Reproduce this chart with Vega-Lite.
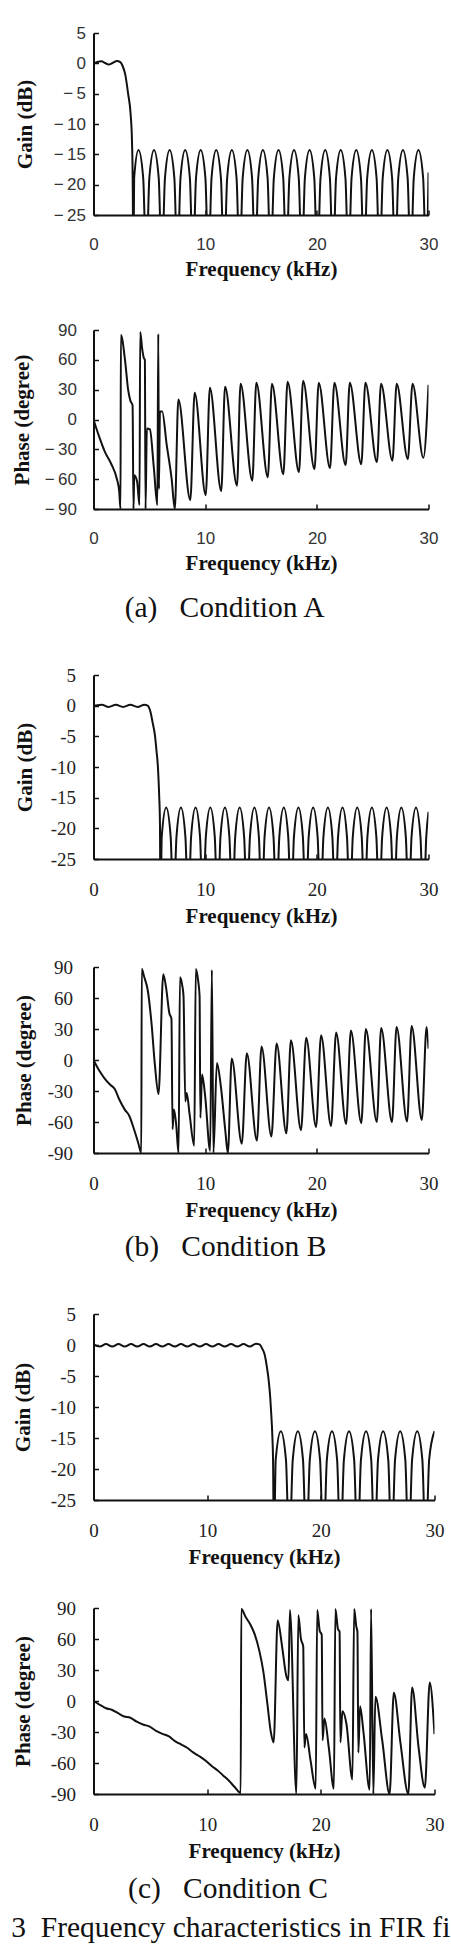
{
  "$schema": "https://vega.github.io/schema/vega-lite/v6.json",
  "background": "white",
  "padding": {"left": 10.5, "top": 24, "right": 0, "bottom": 5},
  "config": {
    "view": {"stroke": null},
    "axis": {"grid": false, "domainColor": "#111", "domainWidth": 2, "tickColor": "#111", "tickWidth": 1.5, "tickSize": -5, "labelColor": "#222", "titleColor": "#111", "titleFont": "Liberation Serif", "titleFontWeight": "bold", "titleFontSize": 21, "labelFont": "Liberation Serif", "labelFontSize": 19, "labelFlush": false, "labelOverlap": false},
    "title": {"font": "Liberation Serif", "fontSize": 29.5, "fontWeight": "normal", "color": "#111", "orient": "bottom", "anchor": "middle", "offset": 14}
  },
  "datasets": {
    "gA": [{"x":0,"y":0},{"x":0.3,"y":0.2},{"x":0.7,"y":0.35},{"x":1.05,"y":0.05},{"x":1.35,"y":-0.2},{"x":1.7,"y":0.05},{"x":2.1,"y":0.4},{"x":2.4,"y":0.2},{"x":2.6,"y":-0.4},{"x":2.85,"y":-1.9},{"x":3.1,"y":-5},{"x":3.33,"y":-8.5},{"x":3.45,"y":-13},{"x":3.51,"y":-19},{"x":3.57,"y":-34},
      {"x":3.64,"y":-18.9},{"x":4.03,"y":-14.3},{"x":4.45,"y":-18.9},{"x":4.73,"y":-34},
      {"x":5.0,"y":-18.9},{"x":5.42,"y":-14.3},{"x":5.84,"y":-18.9},{"x":6.12,"y":-34},
      {"x":6.4,"y":-18.9},{"x":6.82,"y":-14.3},{"x":7.24,"y":-18.9},{"x":7.52,"y":-34},
      {"x":7.79,"y":-18.9},{"x":8.21,"y":-14.3},{"x":8.63,"y":-18.9},{"x":8.91,"y":-34},
      {"x":9.18,"y":-18.9},{"x":9.6,"y":-14.3},{"x":10.02,"y":-18.9},{"x":10.3,"y":-34},
      {"x":10.57,"y":-18.9},{"x":10.99,"y":-14.3},{"x":11.41,"y":-18.9},{"x":11.69,"y":-34},
      {"x":11.97,"y":-18.9},{"x":12.39,"y":-14.3},{"x":12.81,"y":-18.9},{"x":13.09,"y":-34},
      {"x":13.36,"y":-18.9},{"x":13.78,"y":-14.3},{"x":14.2,"y":-18.9},{"x":14.48,"y":-34},
      {"x":14.75,"y":-18.9},{"x":15.17,"y":-14.3},{"x":15.59,"y":-18.9},{"x":15.87,"y":-34},
      {"x":16.15,"y":-18.9},{"x":16.57,"y":-14.3},{"x":16.99,"y":-18.9},{"x":17.27,"y":-34},
      {"x":17.54,"y":-18.9},{"x":17.96,"y":-14.3},{"x":18.38,"y":-18.9},{"x":18.66,"y":-34},
      {"x":18.93,"y":-18.9},{"x":19.35,"y":-14.3},{"x":19.77,"y":-18.9},{"x":20.05,"y":-34},
      {"x":20.33,"y":-18.9},{"x":20.75,"y":-14.3},{"x":21.17,"y":-18.9},{"x":21.45,"y":-34},
      {"x":21.72,"y":-18.9},{"x":22.14,"y":-14.3},{"x":22.56,"y":-18.9},{"x":22.84,"y":-34},
      {"x":23.11,"y":-18.9},{"x":23.53,"y":-14.3},{"x":23.95,"y":-18.9},{"x":24.23,"y":-34},
      {"x":24.51,"y":-18.9},{"x":24.93,"y":-14.3},{"x":25.35,"y":-18.9},{"x":25.63,"y":-34},
      {"x":25.9,"y":-18.9},{"x":26.32,"y":-14.3},{"x":26.74,"y":-18.9},{"x":27.02,"y":-34},
      {"x":27.29,"y":-18.9},{"x":27.71,"y":-14.3},{"x":28.13,"y":-18.9},{"x":28.41,"y":-34},
      {"x":28.68,"y":-18.9},{"x":29.1,"y":-14.3},{"x":29.52,"y":-18.9},{"x":29.8,"y":-34},
      {"x":30,"y":-18}],
    "pA": [{"x":0,"y":0},{"x":0.2,"y":-7},{"x":0.5,"y":-17},{"x":1.0,"y":-32},{"x":1.6,"y":-45},{"x":2.1,"y":-60},{"x":2.3,"y":-72},{"x":2.42,"y":-90},{"x":2.45,"y":85},{"x":2.84,"y":58},{"x":3.1,"y":30},{"x":3.3,"y":19},{"x":3.5,"y":14},{"x":3.58,"y":-90},{"x":3.65,"y":-56},{"x":3.9,"y":-62},{"x":4.12,"y":-86},{"x":4.18,"y":88},{"x":4.36,"y":71},{"x":4.5,"y":62},{"x":4.6,"y":60},{"x":4.66,"y":-90},{"x":4.78,"y":-9},{"x":5.05,"y":-10},{"x":5.4,"y":-48},{"x":5.72,"y":-86},{"x":5.8,"y":86},{"x":5.86,"y":-70},{"x":5.95,"y":8},{"x":6.15,"y":8},{"x":6.55,"y":-25},{"x":7.0,"y":-60},{"x":7.28,"y":-90},
      {"x":7.6,"y":20},{"x":8.67,"y":-81},{"x":9.06,"y":27},{"x":10.05,"y":-76},{"x":10.42,"y":32},{"x":11.44,"y":-72},{"x":11.78,"y":33},{"x":12.85,"y":-66.5},{"x":13.17,"y":36},{"x":14.22,"y":-61.5},{"x":14.58,"y":37},{"x":15.61,"y":-58},{"x":15.98,"y":36},{"x":17.0,"y":-55},{"x":17.38,"y":38},{"x":18.4,"y":-53},{"x":18.77,"y":39},{"x":19.79,"y":-50},{"x":20.17,"y":37},{"x":21.18,"y":-49},{"x":21.57,"y":37},{"x":22.58,"y":-46},{"x":22.95,"y":37},{"x":23.98,"y":-45},{"x":24.35,"y":37},{"x":25.38,"y":-43},{"x":25.75,"y":36},{"x":26.77,"y":-41.5},{"x":27.15,"y":36},{"x":28.15,"y":-40},{"x":28.57,"y":36},{"x":29.54,"y":-38.5},{"x":30,"y":35}],
    "gB": [{"x":0,"y":0},{"x":0.35,"y":0.05},{"x":0.75,"y":0.15},{"x":1.35,"y":-0.2},{"x":2.0,"y":0.15},{"x":2.65,"y":-0.2},{"x":3.3,"y":0.15},{"x":3.95,"y":-0.2},{"x":4.55,"y":0.15},{"x":4.85,"y":0},{"x":5.1,"y":-1},{"x":5.3,"y":-2.8},{"x":5.5,"y":-4.8},{"x":5.65,"y":-7.5},{"x":5.75,"y":-9.5},{"x":5.88,"y":-14.6},{"x":5.95,"y":-19},{"x":6.0,"y":-34},
      {"x":6.11,"y":-21.4},{"x":6.51,"y":-16.6},{"x":6.91,"y":-21.4},{"x":7.17,"y":-34},
      {"x":7.43,"y":-21.4},{"x":7.83,"y":-16.6},{"x":8.23,"y":-21.4},{"x":8.49,"y":-34},
      {"x":8.74,"y":-21.4},{"x":9.14,"y":-16.6},{"x":9.54,"y":-21.4},{"x":9.8,"y":-34},
      {"x":10.06,"y":-21.4},{"x":10.46,"y":-16.6},{"x":10.86,"y":-21.4},{"x":11.12,"y":-34},
      {"x":11.37,"y":-21.4},{"x":11.77,"y":-16.6},{"x":12.17,"y":-21.4},{"x":12.43,"y":-34},
      {"x":12.69,"y":-21.4},{"x":13.09,"y":-16.6},{"x":13.49,"y":-21.4},{"x":13.75,"y":-34},
      {"x":14.01,"y":-21.4},{"x":14.41,"y":-16.6},{"x":14.81,"y":-21.4},{"x":15.07,"y":-34},
      {"x":15.32,"y":-21.4},{"x":15.72,"y":-16.6},{"x":16.12,"y":-21.4},{"x":16.38,"y":-34},
      {"x":16.64,"y":-21.4},{"x":17.04,"y":-16.6},{"x":17.44,"y":-21.4},{"x":17.7,"y":-34},
      {"x":17.95,"y":-21.4},{"x":18.35,"y":-16.6},{"x":18.75,"y":-21.4},{"x":19.01,"y":-34},
      {"x":19.27,"y":-21.4},{"x":19.67,"y":-16.6},{"x":20.07,"y":-21.4},{"x":20.33,"y":-34},
      {"x":20.59,"y":-21.4},{"x":20.99,"y":-16.6},{"x":21.39,"y":-21.4},{"x":21.65,"y":-34},
      {"x":21.9,"y":-21.4},{"x":22.3,"y":-16.6},{"x":22.7,"y":-21.4},{"x":22.96,"y":-34},
      {"x":23.22,"y":-21.4},{"x":23.62,"y":-16.6},{"x":24.02,"y":-21.4},{"x":24.28,"y":-34},
      {"x":24.53,"y":-21.4},{"x":24.93,"y":-16.6},{"x":25.33,"y":-21.4},{"x":25.59,"y":-34},
      {"x":25.85,"y":-21.4},{"x":26.25,"y":-16.6},{"x":26.65,"y":-21.4},{"x":26.91,"y":-34},
      {"x":27.17,"y":-21.4},{"x":27.57,"y":-16.6},{"x":27.97,"y":-21.4},{"x":28.23,"y":-34},
      {"x":28.48,"y":-21.4},{"x":28.88,"y":-16.6},{"x":29.28,"y":-21.4},{"x":29.54,"y":-34},
      {"x":29.8,"y":-21.4},{"x":30,"y":-17.3}],
    "pB": [{"x":0,"y":0},{"x":0.5,"y":-10},{"x":1.0,"y":-18},{"x":1.5,"y":-24},{"x":1.9,"y":-28},{"x":2.3,"y":-38},{"x":2.8,"y":-48},{"x":3.2,"y":-54},{"x":3.6,"y":-66},{"x":4.0,"y":-80},{"x":4.28,"y":-90},{"x":4.32,"y":88},{"x":4.55,"y":80},{"x":4.85,"y":68},{"x":5.2,"y":35},{"x":5.5,"y":-5},{"x":5.82,"y":-33},{"x":6.25,"y":83},{"x":6.5,"y":70},{"x":6.8,"y":45},{"x":6.98,"y":40},{"x":7.08,"y":-67},{"x":7.2,"y":-48},{"x":7.4,"y":-62},{"x":7.62,"y":-90},{"x":7.74,"y":80},{"x":7.95,"y":72},{"x":8.06,"y":62},{"x":8.22,"y":-40},{"x":8.35,"y":-32},{"x":8.6,"y":-52},{"x":9.02,"y":-83},{"x":9.16,"y":88},{"x":9.38,"y":76},{"x":9.5,"y":62},{"x":9.57,"y":-56},{"x":9.72,"y":-14},{"x":10.0,"y":-35},{"x":10.45,"y":-88},{"x":10.6,"y":87},{"x":10.74,"y":-90},{"x":11.05,"y":-3},{"x":11.4,"y":-25},{"x":11.8,"y":-68},{"x":12.03,"y":-90},
      {"x":12.38,"y":1.5},{"x":13.28,"y":-81},{"x":13.73,"y":6.5},{"x":14.63,"y":-78},{"x":15.05,"y":13},{"x":15.93,"y":-74},{"x":16.4,"y":16},{"x":17.27,"y":-71},{"x":17.68,"y":19},{"x":18.58,"y":-68},{"x":19.05,"y":21.5},{"x":19.93,"y":-65},{"x":20.38,"y":24},{"x":21.27,"y":-64},{"x":21.73,"y":26.5},{"x":22.62,"y":-62},{"x":23.05,"y":28.5},{"x":23.98,"y":-61},{"x":24.39,"y":30},{"x":25.37,"y":-60},{"x":25.76,"y":31},{"x":26.73,"y":-60},{"x":27.14,"y":32},{"x":28.08,"y":-59.5},{"x":28.49,"y":33},{"x":29.4,"y":-58},{"x":29.83,"y":32},{"x":30,"y":11}],
    "gC": [{"x":0,"y":0.1},{"x":0.55,"y":-0.25},{"x":1.1,"y":0.15},{"x":1.65,"y":-0.25},{"x":2.2,"y":0.15},{"x":2.75,"y":-0.25},{"x":3.3,"y":0.15},{"x":3.85,"y":-0.25},{"x":4.4,"y":0.15},{"x":4.95,"y":-0.25},{"x":5.5,"y":0.15},{"x":6.05,"y":-0.25},{"x":6.6,"y":0.15},{"x":7.15,"y":-0.25},{"x":7.7,"y":0.15},{"x":8.25,"y":-0.25},{"x":8.8,"y":0.15},{"x":9.35,"y":-0.25},{"x":9.9,"y":0.15},{"x":10.45,"y":-0.25},{"x":11.0,"y":0.15},{"x":11.55,"y":-0.25},{"x":12.1,"y":0.15},{"x":12.65,"y":-0.25},{"x":13.2,"y":0.15},{"x":13.75,"y":-0.25},{"x":14.3,"y":0.2},{"x":14.6,"y":0.1},{"x":14.85,"y":-0.6},{"x":15.05,"y":-1.5},{"x":15.25,"y":-3.5},{"x":15.4,"y":-5.5},{"x":15.55,"y":-8.5},{"x":15.65,"y":-11.5},{"x":15.73,"y":-14.5},{"x":15.8,"y":-19},{"x":15.87,"y":-34},
      {"x":16.03,"y":-18.5},{"x":16.48,"y":-13.9},{"x":16.93,"y":-18.5},{"x":17.23,"y":-34},
      {"x":17.53,"y":-18.5},{"x":17.98,"y":-13.9},{"x":18.43,"y":-18.5},{"x":18.73,"y":-34},
      {"x":19.03,"y":-18.5},{"x":19.48,"y":-13.9},{"x":19.93,"y":-18.5},{"x":20.23,"y":-34},
      {"x":20.53,"y":-18.5},{"x":20.98,"y":-13.9},{"x":21.43,"y":-18.5},{"x":21.73,"y":-34},
      {"x":22.03,"y":-18.5},{"x":22.48,"y":-13.9},{"x":22.93,"y":-18.5},{"x":23.23,"y":-34},
      {"x":23.53,"y":-18.5},{"x":23.98,"y":-13.9},{"x":24.43,"y":-18.5},{"x":24.73,"y":-34},
      {"x":25.03,"y":-18.5},{"x":25.48,"y":-13.9},{"x":25.93,"y":-18.5},{"x":26.23,"y":-34},
      {"x":26.53,"y":-18.5},{"x":26.98,"y":-13.9},{"x":27.43,"y":-18.5},{"x":27.73,"y":-34},
      {"x":28.03,"y":-18.5},{"x":28.48,"y":-13.9},{"x":28.93,"y":-18.5},{"x":29.23,"y":-34},
      {"x":29.53,"y":-18.5},{"x":30,"y":-13.9}],
    "pC": [{"x":0,"y":0},{"x":0.6,"y":-4},{"x":1.1,"y":-7},{"x":1.6,"y":-8.5},{"x":2.2,"y":-12},{"x":2.7,"y":-15},{"x":3.2,"y":-16},{"x":3.8,"y":-20},{"x":4.4,"y":-23},{"x":4.9,"y":-24.5},{"x":5.5,"y":-29},{"x":6.1,"y":-32},{"x":6.6,"y":-34},{"x":7.2,"y":-39},{"x":7.7,"y":-42},{"x":8.2,"y":-45},{"x":8.8,"y":-50},{"x":9.4,"y":-54},{"x":9.9,"y":-58},{"x":10.4,"y":-63},{"x":10.9,"y":-67},{"x":11.4,"y":-72},{"x":11.9,"y":-77},{"x":12.4,"y":-83},{"x":12.95,"y":-89},
      {"x":13.0,"y":89},{"x":13.4,"y":81},{"x":13.8,"y":74},{"x":14.2,"y":64},{"x":14.6,"y":48},{"x":14.95,"y":28},{"x":15.3,"y":-3},{"x":15.6,"y":-30},{"x":15.85,"y":-40},{"x":16.2,"y":78},{"x":16.6,"y":52},{"x":16.95,"y":25},{"x":17.15,"y":20},{"x":17.28,"y":88},{"x":17.85,"y":-90},{"x":18.02,"y":83},{"x":18.25,"y":60},{"x":18.45,"y":53},{"x":18.55,"y":-45},{"x":18.7,"y":-32},{"x":19.1,"y":-58},{"x":19.55,"y":-85},{"x":19.68,"y":88},{"x":19.9,"y":68},{"x":20.08,"y":64},{"x":20.15,"y":-38},{"x":20.32,"y":-17},{"x":20.7,"y":-45},{"x":21.15,"y":-85},{"x":21.28,"y":89},{"x":21.5,"y":70},{"x":21.65,"y":67},{"x":21.72,"y":-40},{"x":21.9,"y":-10},{"x":22.25,"y":-22},{"x":22.78,"y":-76},{"x":22.93,"y":89},{"x":23.12,"y":72},{"x":23.22,"y":67},{"x":23.3,"y":-50},{"x":23.45,"y":-5},{"x":23.75,"y":-30},{"x":24.3,"y":-86},{"x":24.42,"y":89},{"x":24.62,"y":-90},{"x":24.8,"y":4},{"x":25.4,"y":-38},{"x":26.05,"y":-90},{"x":26.42,"y":8},{"x":27.0,"y":-40},{"x":27.7,"y":-90},{"x":28.03,"y":13},{"x":28.6,"y":-45},{"x":29.15,"y":-84},{"x":29.58,"y":18},{"x":30,"y":-32}]
  },
  "title": {"text": "3\u00a0\u00a0Frequency characteristics in FIR fi", "orient": "bottom", "anchor": "start", "offset": 10},
  "spacing": 43,
  "vconcat": [
    {
      "title": {"text": "(a)\u00a0\u00a0\u00a0Condition A", "offset": 21},
      "spacing": 42,
      "vconcat": [
        {
          "width": 335, "height": 182,
          "data": {"name": "gA"},
          "mark": {"type": "line", "interpolate": "monotone", "color": "#111", "strokeWidth": 2, "clip": true},
          "encoding": {
            "x": {"field": "x", "type": "quantitative", "scale": {"domain": [0, 30], "nice": false}, "axis": {"values": [0, 10, 20, 30], "title": "Frequency (kHz)", "labelFont": "Liberation Sans", "labelFontSize": 17, "labelColor": "#333", "labelPadding": 26, "titlePadding": 6}},
            "y": {"field": "y", "type": "quantitative", "scale": {"domain": [-25, 5], "nice": false}, "axis": {"values": [5, 0, -5, -10, -15, -20, -25], "title": "Gain (dB)", "labelFont": "Liberation Sans", "labelFontSize": 17, "labelColor": "#333", "labelPadding": 13, "titlePadding": 18, "labelExpr": "replace(datum.label, '\u2212', '\u2212\u2009')"}}
          }
        },
        {
          "width": 335, "height": 179,
          "data": {"name": "pA"},
          "mark": {"type": "line", "interpolate": "monotone", "color": "#111", "strokeWidth": 2, "clip": true},
          "encoding": {
            "x": {"field": "x", "type": "quantitative", "scale": {"domain": [0, 30], "nice": false}, "axis": {"values": [0, 10, 20, 30], "title": "Frequency (kHz)", "labelFont": "Liberation Sans", "labelFontSize": 17, "labelColor": "#333", "labelPadding": 26, "titlePadding": 6}},
            "y": {"field": "y", "type": "quantitative", "scale": {"domain": [-90, 90], "nice": false}, "axis": {"values": [90, 60, 30, 0, -30, -60, -90], "title": "Phase (degree)", "labelFont": "Liberation Sans", "labelFontSize": 17, "labelColor": "#333", "labelPadding": 22, "titlePadding": 12, "labelExpr": "replace(datum.label, '\u2212', '\u2212\u2009')"}}
          }
        }
      ]
    },
    {
      "title": {"text": "(b)\u00a0\u00a0\u00a0Condition B", "offset": 13},
      "spacing": 32,
      "vconcat": [
        {
          "width": 335, "height": 184,
          "data": {"name": "gB"},
          "mark": {"type": "line", "interpolate": "monotone", "color": "#111", "strokeWidth": 2, "clip": true},
          "encoding": {
            "x": {"field": "x", "type": "quantitative", "scale": {"domain": [0, 30], "nice": false}, "axis": {"values": [0, 10, 20, 30], "title": "Frequency (kHz)", "labelPadding": 26, "titlePadding": 6}},
            "y": {"field": "y", "type": "quantitative", "scale": {"domain": [-25, 5], "nice": false}, "axis": {"values": [5, 0, -5, -10, -15, -20, -25], "title": "Gain (dB)", "labelPadding": 23, "titlePadding": 15, "labelExpr": "replace(datum.label, '\u2212', '-')"}}
          }
        },
        {
          "width": 335, "height": 186,
          "data": {"name": "pB"},
          "mark": {"type": "line", "interpolate": "monotone", "color": "#111", "strokeWidth": 2, "clip": true},
          "encoding": {
            "x": {"field": "x", "type": "quantitative", "scale": {"domain": [0, 30], "nice": false}, "axis": {"values": [0, 10, 20, 30], "title": "Frequency (kHz)", "labelPadding": 26, "titlePadding": 6}},
            "y": {"field": "y", "type": "quantitative", "scale": {"domain": [-90, 90], "nice": false}, "axis": {"values": [90, 60, 30, 0, -30, -60, -90], "title": "Phase (degree)", "labelPadding": 26, "titlePadding": 13, "labelExpr": "replace(datum.label, '\u2212', '-')"}}
          }
        }
      ]
    },
    {
      "title": {"text": "(c)\u00a0\u00a0\u00a0Condition C", "offset": 14},
      "spacing": 32,
      "vconcat": [
        {
          "width": 341, "height": 186,
          "data": {"name": "gC"},
          "mark": {"type": "line", "interpolate": "monotone", "color": "#111", "strokeWidth": 2, "clip": true},
          "encoding": {
            "x": {"field": "x", "type": "quantitative", "scale": {"domain": [0, 30], "nice": false}, "axis": {"values": [0, 10, 20, 30], "title": "Frequency (kHz)", "labelPadding": 26, "titlePadding": 6}},
            "y": {"field": "y", "type": "quantitative", "scale": {"domain": [-25, 5], "nice": false}, "axis": {"values": [5, 0, -5, -10, -15, -20, -25], "title": "Gain (dB)", "labelPadding": 23, "titlePadding": 17, "labelExpr": "replace(datum.label, '\u2212', '-')"}}
          }
        },
        {
          "width": 341, "height": 186,
          "data": {"name": "pC"},
          "mark": {"type": "line", "interpolate": "monotone", "color": "#111", "strokeWidth": 2, "clip": true},
          "encoding": {
            "x": {"field": "x", "type": "quantitative", "scale": {"domain": [0, 30], "nice": false}, "axis": {"values": [0, 10, 20, 30], "title": "Frequency (kHz)", "labelPadding": 26, "titlePadding": 6}},
            "y": {"field": "y", "type": "quantitative", "scale": {"domain": [-90, 90], "nice": false}, "axis": {"values": [90, 60, 30, 0, -30, -60, -90], "title": "Phase (degree)", "labelPadding": 23, "titlePadding": 17, "labelExpr": "replace(datum.label, '\u2212', '-')"}}
          }
        }
      ]
    }
  ]
}
